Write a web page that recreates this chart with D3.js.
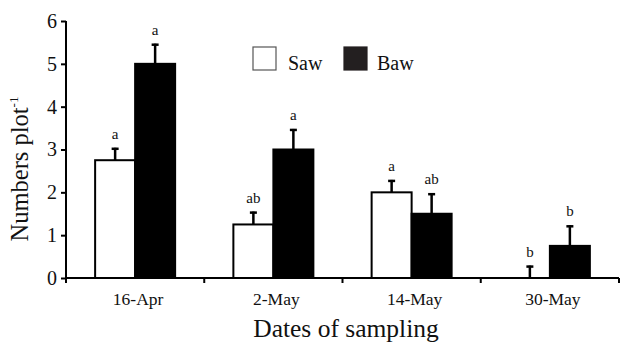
<!DOCTYPE html>
<html><head><meta charset="utf-8">
<script src="https://cdn.jsdelivr.net/npm/d3@7"></script>
<style>body{margin:0;background:#fff}svg{display:block}text{font-family:"Liberation Serif","Times New Roman",serif}</style>
</head><body><svg id="c" width="620" height="344"></svg>
<script>
const categories = ["16-Apr", "2-May", "14-May", "30-May"];
const seriesNames = ["Saw", "Baw"];
const sawValues = [2.75, 1.25, 2.0, 0];
const sawErrors = [0.29, 0.30, 0.29, 0.29];
const sawLetters = ["a", "ab", "a", "b"];
const bawValues = [5.0, 3.0, 1.5, 0.75];
const bawErrors = [0.47, 0.48, 0.48, 0.48];
const bawLetters = ["a", "a", "ab", "b"];
const yTicks = [0, 1, 2, 3, 4, 5, 6];

const svg = d3.select("#c");
const x0 = d3.scaleBand().domain(categories).range([66, 619]).padding(0);
const bw = 40;
const x1 = d3.scaleBand().domain(seriesNames).range([0, bw * 2]);
const y = d3.scaleLinear().domain([0, 6]).range([278, 21]);

const series = [
  {name: "Saw", values: sawValues, errors: sawErrors, letters: sawLetters, fill: "#fff"},
  {name: "Baw", values: bawValues, errors: bawErrors, letters: bawLetters, fill: "#000"}
];

const gBars = svg.append("g");
series.forEach(s => {
  categories.forEach((c, i) => {
    const xs = x0(c) + x0.bandwidth() / 2 - bw + x1(s.name);
    const v = s.values[i];
    if (v > 0) {
      gBars.append("rect").attr("x", xs).attr("y", y(v)).attr("width", x1.bandwidth())
        .attr("height", y(0) - y(v)).attr("fill", s.fill).attr("stroke", "#000").attr("stroke-width", 2);
    }
    const cx = xs + x1.bandwidth() / 2;
    const top = y(v + s.errors[i]);
    gBars.append("line").attr("x1", cx).attr("x2", cx).attr("y1", y(v)).attr("y2", top)
      .attr("stroke", "#000").attr("stroke-width", 2.5);
    gBars.append("line").attr("x1", cx - 3.5).attr("x2", cx + 3.5).attr("y1", top + 1).attr("y2", top + 1)
      .attr("stroke", "#000").attr("stroke-width", 2.5);
    gBars.append("text").attr("x", cx).attr("y", top - 9).attr("text-anchor", "middle")
      .attr("font-size", 15).attr("fill", "#111").text(s.letters[i]);
  });
});

// Y axis
const yAxis = svg.append("g").attr("transform", "translate(66,0)")
  .call(d3.axisLeft(y).tickValues(yTicks).tickSize(5).tickPadding(4).tickFormat(d3.format("d")));
yAxis.select(".domain").attr("stroke", "#000").attr("stroke-width", 2).attr("d", `M0,${y(6)}V${y(0)}`);
yAxis.selectAll(".tick line").attr("stroke", "#000").attr("stroke-width", 2);
yAxis.selectAll(".tick text").attr("font-size", 20).attr("fill", "#111")
  .style("font-family", '"Liberation Serif",serif');

// X axis
const xAxis = svg.append("g").attr("transform", `translate(0,${y(0)})`)
  .call(d3.axisBottom(x0).tickSize(0).tickPadding(15));
xAxis.select(".domain").attr("stroke", "#000").attr("stroke-width", 2).attr("d", "M65,0H619");
xAxis.selectAll(".tick text").attr("font-size", 17.5).attr("fill", "#111").attr("dx", 3)
  .style("font-family", '"Liberation Serif",serif');
const bounds = [66].concat(categories.map(c => x0(c) + x0.bandwidth()));
xAxis.selectAll(".sep").data(bounds).enter().append("line")
  .attr("x1", d => d).attr("x2", d => d).attr("y1", 0).attr("y2", 5)
  .attr("stroke", "#000").attr("stroke-width", 2);

// Axis titles
svg.append("text").attr("x", 346).attr("y", 337).attr("text-anchor", "middle")
  .attr("font-size", 25.5).attr("fill", "#111").text("Dates of sampling");
const yt = svg.append("text").attr("transform", "translate(28,169) rotate(-90)")
  .attr("text-anchor", "middle").attr("font-size", 24.5).attr("fill", "#111");
yt.append("tspan").text("Numbers plot");
yt.append("tspan").attr("font-size", 13).attr("dy", -10).text("-1");

// Legend
const legend = [{name: "Saw", fill: "#fff", sx: 253, tx: 288}, {name: "Baw", fill: "#231f20", sx: 344, tx: 377}];
legend.forEach(l => {
  svg.append("rect").attr("x", l.sx).attr("y", 47).attr("width", 23).attr("height", 23)
    .attr("fill", l.fill).attr("stroke", l.name === "Saw" ? "#555" : "#231f20").attr("stroke-width", 1.2);
  svg.append("text").attr("x", l.tx).attr("y", 70).attr("font-size", 20).attr("fill", "#111").text(l.name);
});
</script></body></html>
